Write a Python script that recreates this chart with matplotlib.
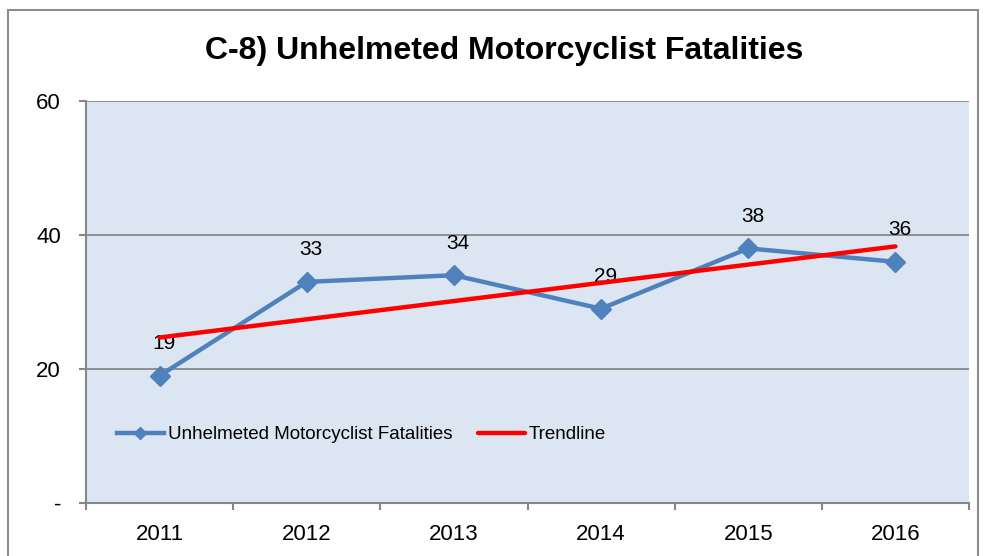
import matplotlib.pyplot as plt
from matplotlib.patches import Rectangle

plt.rcParams['font.family'] = ['Liberation Sans', 'DejaVu Sans']

# --- Data ---
years = ["2011", "2012", "2013", "2014", "2015", "2016"]
fatalities = [19, 33, 34, 29, 38, 36]
trend_years = ["2011", "2016"]
trend_values = [24.7, 38.3]
y_ticks = [0, 20, 40, 60]
y_tick_labels = ["-", "20", "40", "60"]

blue = "#4f81bd"
grid_gray = "#878787"

fig = plt.figure(figsize=(9.89, 5.56), dpi=100)
W, H = 989, 556
ax = fig.add_axes([86 / W, 1 - 503 / H, (969 - 86) / W, (503 - 101) / H])
ax.set_facecolor("#dce6f2")

# outer chart border
fig.patches.append(Rectangle((8 / W, -0.05), (978 - 8) / W, 1 - 10 / H + 0.05,
                             transform=fig.transFigure, fill=False,
                             edgecolor="#8c8c8c", linewidth=1.5))

xpos = list(range(len(years)))
ax.plot(xpos, fatalities, color=blue, linewidth=3.2, marker="D",
        markersize=10, label="Unhelmeted Motorcyclist Fatalities", zorder=3)
tx = [years.index(y) for y in trend_years]
ax.plot(tx, trend_values, color="#ff0000", linewidth=3.2,
        solid_capstyle="round", label="Trendline", zorder=4)

for x, v in zip(xpos, fatalities):
    ax.annotate(str(v), (x, v), xytext=(3, 23), textcoords="offset points",
                ha="center", va="center", fontsize=15)

ax.set_xlim(-0.5, len(years) - 0.5)
ax.set_ylim(0, 60)
ax.set_yticks(y_ticks)
ax.set_yticklabels(y_tick_labels, fontsize=16)
ax.set_xticks(xpos)
ax.set_xticklabels(years, fontsize=16)
ax.set_xticks([i - 0.5 for i in range(len(years) + 1)], minor=True)
ax.tick_params(axis="x", which="major", length=0, pad=15)
ax.tick_params(axis="x", which="minor", length=5, color=grid_gray, width=1.5)
ax.tick_params(axis="y", length=5, color=grid_gray, width=1.5, pad=13)

ax.grid(axis="y", color=grid_gray, linewidth=1.3)
ax.set_axisbelow(True)
for s in ["top", "right"]:
    ax.spines[s].set_visible(False)
for s in ["left", "bottom"]:
    ax.spines[s].set_color(grid_gray)
    ax.spines[s].set_linewidth(1.5)

ax.legend(loc="center left", bbox_to_anchor=(0.016, 0.17), ncol=2, frameon=False,
          fontsize=13.5, handlelength=2.5, handletextpad=0.2, columnspacing=1.4,
          markerscale=0.6)

fig.text(504 / W, 1 - 51 / H, "C-8) Unhelmeted Motorcyclist Fatalities",
         ha="center", va="center", fontsize=23, fontweight="bold")

fig.savefig("out.png", dpi=100)
